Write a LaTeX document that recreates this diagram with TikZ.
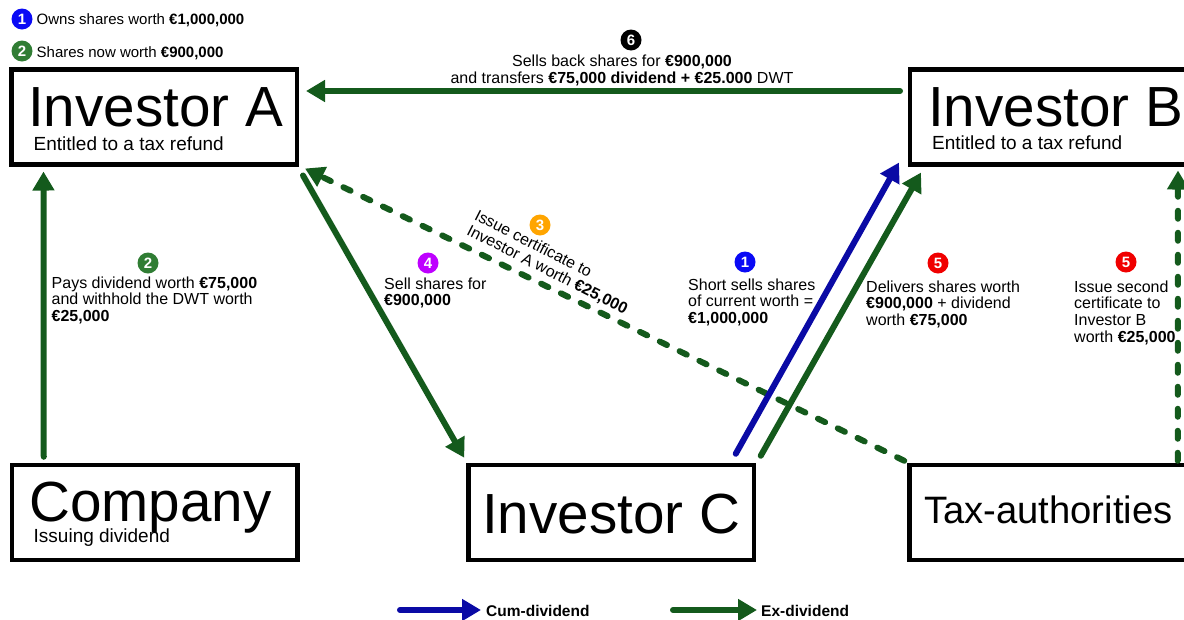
\documentclass[tikz,border=0pt]{standalone}
\usepackage{fontspec}
\setmainfont{Liberation Sans}
\usetikzlibrary{arrows.meta}
\definecolor{exgreen}{RGB}{20,90,28}
\definecolor{cumblue}{RGB}{10,10,165}
\definecolor{dotblue}{RGB}{10,10,245}
\definecolor{dotgreen}{RGB}{48,125,52}
\definecolor{dotorange}{RGB}{255,165,0}
\definecolor{dotpurple}{RGB}{190,0,255}
\definecolor{dotred}{RGB}{240,0,0}

\begin{document}
\begin{tikzpicture}[x=1pt, y=-1pt,
        party/.style={rectangle, draw, line width=4.5pt, minimum width=285.5pt, minimum height=95pt, inner sep=0pt, outer sep=0pt},
        bigname/.style={anchor=base west, inner sep=0pt, font=\fontsize{56.6}{60}\selectfont},
        subname/.style={anchor=base west, inner sep=0pt, font=\fontsize{19}{22}\selectfont},
        note/.style={anchor=base west, inner sep=0pt, align=left, font=\fontsize{16}{16.8}\selectfont},
        numdot/.style={circle, fill=#1, text=white, inner sep=0pt, minimum size=21pt, font=\bfseries\fontsize{15}{15}\selectfont},
        flow/.style={line width=6pt, line cap=round, -{Triangle[length=19pt, width=21pt]}},
        ex/.style={flow, draw=exgreen},
        cum/.style={flow, draw=cumblue},
        cert/.style={ex, dash pattern=on 8pt off 14pt}]
        \useasboundingbox (0,0) rectangle (1184,619);
        \clip (0,0) rectangle (1184,619);

        % Nodes
        \node (ia) [party] at (154.25,117) {};
        \node (ib) [party] at (1052.75,117) {};
        \node (co) [party] at (154.5,512.25) {};
        \node (ic) [party] at (611,512.25) {};
        \node (ta) [party] at (1052,512.25) {};

        \node (ianame) [bigname] at (28,126) {Investor A};
        \node (iasub) [subname] at (33.5,150) {Entitled to a tax refund};
        \node (ibname) [bigname] at (928,126) {Investor B};
        \node (ibsub) [subname] at (932,149.5) {Entitled to a tax refund};
        \node (coname) [bigname] at (29,521) {Company};
        \node (cosub) [subname] at (33.5,542) {Issuing dividend};
        \node (icname) [bigname] at (482,533) {Investor C};
        \node (taname) [bigname, font=\fontsize{38.2}{40}\selectfont] at (924,523) {Tax-authorities};

        % Legend (base = last line)
        \node (key1) [numdot=dotblue] at (22,19) {1};
        \node (owns) [note, font=\fontsize{15}{16}\selectfont] at (36.5,24.5) {Owns shares worth \textbf{€1,000,000}};
        \node (key2) [numdot=dotgreen] at (22,51) {2};
        \node (now) [note, font=\fontsize{15}{16}\selectfont] at (36.5,57.5) {Shares now worth \textbf{€900,000}};

        % Step labels
        \node (step6) [numdot=black] at (631,40) {6};
        \node (sellback) [anchor=base, inner sep=0pt, align=center, font=\fontsize{16}{17}\selectfont] at (622,83)
            {Sells back shares for \textbf{€900,000}\\and transfers \textbf{€75,000 dividend + €25.000} DWT};
        \node (step2) [numdot=dotgreen] at (148,263) {2};
        \node (pays) [note] at (51.5,321.6) {Pays dividend worth \textbf{€75,000}\\and withhold the DWT worth\\\textbf{€25,000}};
        \node (step4) [numdot=dotpurple] at (428,263) {4};
        \node (sell) [note] at (384,305.8) {Sell shares for\\\textbf{€900,000}};
        \node (step3) [numdot=dotorange] at (540,225) {3};
        \node (certa) [align=left, rotate=-27, inner sep=0pt, font=\fontsize{16}{17}\selectfont] at (551,263)
            {Issue certificate to\\Investor A worth \textbf{€25,000}};
        \node (step1) [numdot=dotblue] at (745,262) {1};
        \node (short) [note] at (688,323.6) {Short sells shares\\of current worth =\\\textbf{€1,000,000}};
        \node (step5) [numdot=dotred] at (938,263) {5};
        \node (deliver) [note] at (866,325.6) {Delivers shares worth\\\textbf{€900,000} + dividend\\worth \textbf{€75,000}};
        \node (step5b) [numdot=dotred] at (1126,262) {5};
        \node (certb) [note] at (1074,342.4) {Issue second\\certificate to\\Investor B\\worth \textbf{€25,000}};

        % Edges
        \draw[ex] ([xshift=32pt,yshift=8pt]co.north west) -- ([xshift=32pt,yshift=-7pt]ia.south west);
        \draw[ex] ([xshift=-10pt,yshift=26pt]ib.west) -- ([xshift=9pt,yshift=26pt]ia.east);
        \draw[ex] ([xshift=6pt,yshift=-11pt]ia.south east) -- ([xshift=-4pt,yshift=7pt]ic.north west);
        \draw[cert] ([xshift=-5pt,yshift=4pt]ta.north west) -- ([xshift=8pt,yshift=-4pt]ia.south east);
        \draw[cum] ([xshift=-18pt,yshift=11pt]ic.north east) -- ([xshift=-11pt,yshift=2pt]ib.south west);
        \draw[ex] ([xshift=7pt,yshift=9pt]ic.north east) -- ([xshift=11pt,yshift=-8pt]ib.south west);
        \draw[cert] ([xshift=-17pt,yshift=4pt]ta.north east) -- ([xshift=-17.5pt,yshift=-6pt]ib.south east);

        % Arrow key
        \coordinate (cumfrom) at (400,610);
        \coordinate (cumto) at (481,610);
        \coordinate (exfrom) at (673,610);
        \coordinate (exto) at (757,610);
        \node (cumtext) [anchor=west, inner sep=0pt, font=\bfseries\fontsize{15.5}{16}\selectfont] at (486,611) {Cum-dividend};
        \node (extext) [anchor=west, inner sep=0pt, font=\bfseries\fontsize{15.5}{16}\selectfont] at (761,611) {Ex-dividend};
        \draw[cum] (cumfrom) -- (cumto);
        \draw[ex] (exfrom) -- (exto);
    \end{tikzpicture}
\end{document}
